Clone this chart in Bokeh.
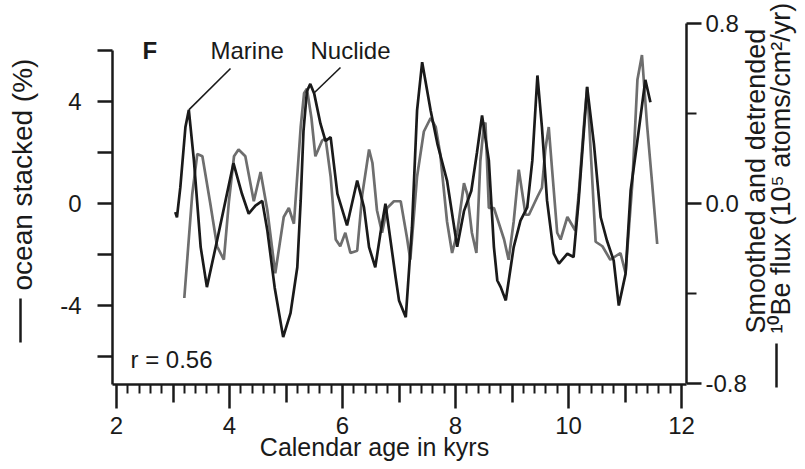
import math
from bokeh.plotting import figure
from bokeh.models import LinearAxis, Range1d, FixedTicker, Label
from bokeh.embed import file_html
from bokeh.resources import INLINE

# ---- data ----
marine_age = [3.04, 3.07, 3.13, 3.22, 3.28, 3.37, 3.49, 3.60, 3.78, 3.93, 4.07, 4.22, 4.34, 4.46,
              4.58, 4.67, 4.80, 4.95, 5.08, 5.20, 5.26, 5.31, 5.37, 5.43, 5.50, 5.61, 5.70, 5.79,
              5.91, 6.08, 6.26, 6.38, 6.47, 6.58, 6.67, 6.76, 6.94, 7.00, 7.12, 7.23, 7.32, 7.41,
              7.56, 7.68, 7.85, 8.03, 8.15, 8.28, 8.38, 8.47, 8.59, 8.68, 8.74, 8.80, 8.89, 9.03,
              9.15, 9.27, 9.36, 9.45, 9.53, 9.62, 9.74, 9.83, 9.98, 10.09, 10.18, 10.33, 10.45,
              10.57, 10.68, 10.80, 10.89, 11.01, 11.10, 11.22, 11.36, 11.45]
marine_pct = [-0.34, -0.54, 0.64, 3.0, 3.67, 1.69, -1.71, -3.28, -1.45, 0.12, 1.58, 0.38, -0.40, -0.08,
              0.10, -1.06, -3.3, -5.24, -4.3, -2.50, 0.12, 2.86, 4.40, 4.69, 4.30, 3.13, 2.45, 2.6,
              0.38, -0.86, 0.90, -0.15, -1.71, -2.50, -1.19, -0.01, -2.89, -3.8, -4.46, -0.93, 3.65, 5.54,
              3.65, 2.34, 0.9, -1.7, -0.3, 0.5, 2.0, 3.45, 1.69, -1.71, -3.02, -3.28, -3.80, -1.71,
              -0.67, -0.15, 1.69, 5.02, 2.99, 0.12, -1.97, -2.36, -1.97, -2.1, 0.12, 4.56, 2.34,
              -0.54, -1.45, -2.24, -4.0, -2.76, 0.51, 2.47, 4.85, 3.97]

nuclide_age = [3.20, 3.34, 3.43, 3.52, 3.66, 3.78, 3.90, 3.99, 4.08, 4.16, 4.28, 4.43, 4.55, 4.67,
               4.81, 4.96, 5.05, 5.14, 5.26, 5.32, 5.37, 5.45, 5.52, 5.64, 5.70, 5.79, 5.88, 5.96,
               6.05, 6.14, 6.26, 6.35, 6.47, 6.53, 6.61, 6.70, 6.79, 6.91, 7.03, 7.14, 7.20, 7.32,
               7.44, 7.56, 7.65, 7.73, 7.85, 7.94, 8.03, 8.15, 8.21, 8.29, 8.37, 8.44, 8.50, 8.53,
               8.59, 8.68, 8.86, 8.94, 9.03, 9.12, 9.24, 9.30, 9.45, 9.53, 9.59, 9.65, 9.71, 9.80,
               9.86, 9.98, 10.12, 10.18, 10.27, 10.33, 10.40, 10.48, 10.60, 10.74, 10.92, 11.01,
               11.13, 11.22, 11.30, 11.39, 11.48, 11.57]
nuclide_flux = [-0.42, 0.04, 0.22, 0.21, 0.0, -0.19, -0.25, 0.01, 0.21, 0.24, 0.21, 0.01, 0.14, -0.03,
                -0.31, -0.06, -0.02, -0.09, 0.34, 0.49, 0.51, 0.38, 0.21, 0.28, 0.29, 0.12, -0.16, -0.19,
                -0.13, -0.22, -0.21, 0.04, 0.24, 0.18, -0.03, -0.13, -0.02, 0.01, 0.01, -0.15, -0.25, 0.12,
                0.32, 0.38, 0.34, 0.22, -0.08, -0.22, -0.13, 0.09, 0.04, -0.13, -0.22, 0.19, 0.34, 0.36,
                -0.02, -0.02, -0.16, -0.25, -0.08, 0.15, -0.05, -0.05, 0.03, 0.07, 0.24, 0.34, 0.15, -0.13,
                -0.16, -0.06, -0.12, 0.04, 0.34, 0.52, 0.20, -0.17, -0.19, -0.25, -0.22, -0.31,
                0.09, 0.55, 0.66, 0.35, 0.09, -0.18]

x_major = [2, 4, 6, 8, 10, 12]
x_mid = [3, 5, 7, 9, 11]
x_minor = [round(2 + 0.2 * i, 1) for i in range(51) if i % 5 != 0]
left_ticks = [-6, -4, -2, 0, 2, 4, 6]
left_tick_labels = {-4: "-4", 0: "0", 4: "4"}
right_major = [-0.8, 0.0, 0.8]
right_minor = [-0.4, 0.4]
right_tick_labels = {-0.8: "-0.8", 0.0: "0.0", 0.8: "0.8"}

# ---- layout (pixels) ----
W, H = 800, 465
FONT = "Liberation Sans"
INK = "#1a1a1a"
GREY = "#6e6e6e"
X_PX = 56.5          # px per kyr
X2_PX = 116          # pixel of 2 kyr
Y0_PX = 203          # pixel of zero on both y axes
L_PX = 25.5          # px per % (left)
R_PX = 225.0         # px per flux unit (right)
AX_L, AX_R, AX_B = 112, 686, 384


def xv(px):
    return 2 + (px - X2_PX) / X_PX


def yl(py):
    return (Y0_PX - py) / L_PX


def yrr(py):
    return (Y0_PX - py) / R_PX


p = figure(width=W, height=H, output_backend="svg", toolbar_location=None,
           x_range=Range1d(xv(0), xv(W)), y_range=Range1d(yl(H), yl(0)),
           x_axis_type=None, y_axis_type=None,
           min_border_left=0, min_border_right=0, min_border_top=0, min_border_bottom=0)
p.extra_y_ranges = {"nuc": Range1d(yrr(H), yrr(0))}
p.outline_line_color = None
p.background_fill_color = "white"
p.border_fill_color = "white"

X_LO, X_HI, Y_LO = xv(AX_L), xv(AX_R), yl(AX_B)


def style_axis(ax, tick_out, label_size="24px"):
    ax.axis_line_color = INK
    ax.axis_line_width = 2.5
    ax.major_tick_line_color = INK
    ax.major_tick_line_width = 2.5
    ax.minor_tick_line_color = INK
    ax.minor_tick_line_width = 2
    ax.major_tick_in = 0
    ax.minor_tick_in = 0
    ax.major_tick_out = tick_out
    ax.major_label_text_font = FONT
    ax.major_label_text_font_size = label_size
    ax.major_label_text_color = INK


# bottom axis
xa = LinearAxis(ticker=FixedTicker(ticks=x_major, minor_ticks=x_minor), fixed_location=Y_LO,
                bounds=(X_LO, X_HI))
style_axis(xa, 24)
xa.minor_tick_out = 9
xa.major_label_standoff = 8
p.add_layout(xa, "below")

# medium ticks at odd kyrs
xm = LinearAxis(ticker=FixedTicker(ticks=x_mid, minor_ticks=[]), fixed_location=Y_LO,
                bounds=(X_LO, X_HI))
style_axis(xm, 18)
xm.axis_line_color = None
xm.major_label_text_color = None
xm.minor_tick_line_color = None
p.add_layout(xm, "below")

# left axis (tick labels are placed as texts below, at the reference's distance)
ya = LinearAxis(ticker=FixedTicker(ticks=left_ticks, minor_ticks=[]), bounds=(Y_LO, 6),
                fixed_location=X_LO)
style_axis(ya, 15)
ya.major_label_text_color = None
p.add_layout(ya, "left")

# right axis
yr = LinearAxis(y_range_name="nuc", ticker=FixedTicker(ticks=right_major, minor_ticks=right_minor),
                bounds=(-0.8, 0.8), fixed_location=X_HI, major_label_overrides=right_tick_labels)
style_axis(yr, 15)
yr.minor_tick_out = 10
yr.major_label_standoff = 4
p.add_layout(yr, "right")

# curves
p.line(nuclide_age, nuclide_flux, y_range_name="nuc", line_color=GREY, line_width=2.7)
p.line(marine_age, marine_pct, line_color=INK, line_width=2.7)

# callout pointers
imax = marine_pct.index(max(marine_pct[:10]))
p.segment(x0=[marine_age[imax]], y0=[marine_pct[imax]], x1=[xv(230)], y1=[yl(68)],
          line_color=INK, line_width=1.6)
p.segment(x0=[xv(313)], y0=[yrr(93)], x1=[xv(340)], y1=[yrr(67)], y_range_name="nuc",
          line_color=INK, line_width=1.6)

# series keys (short bars in front of the axis titles)
p.segment(x0=[xv(20), xv(776)], y0=[yl(298), yl(343)], x1=[xv(20), xv(776)], y1=[yl(342), yl(387)],
          line_color=INK, line_width=2.5)


def lab(text, px, py, size, angle=0.0, align="left", baseline="middle", bold=False):
    """Place a text at page pixel (px, py) measured from the top-left."""
    p.add_layout(Label(x=px, y=H - py, x_units="screen", y_units="screen", text=text, angle=angle,
                       text_align=align, text_baseline=baseline, text_font=FONT,
                       text_font_size=f"{size}px", text_color=INK,
                       text_font_style="bold" if bold else "normal"))


UP = math.pi / 2
# left tick labels, right-aligned 31 px left of the axis line
for val, txt in left_tick_labels.items():
    lab(txt, AX_L - 31, Y0_PX - val * L_PX, 24, align="right")

lab("F", 142, 50, 24, bold=True)
lab("Marine", 210, 49.5, 24)
lab("Nuclide", 310, 50, 24)
lab("r = 0.56", 130, 359, 24)

lab("Calendar age in kyrs", 374, 446, 25, align="center")
lab("ocean stacked (%)", 22, 290, 28, angle=UP)
lab("Smoothed and detrended", 755, 333, 27, angle=UP)
lab("\u00b9\u2070Be flux (10\u2075 atoms/cm\u00b2/yr)", 780, 333, 27, angle=UP)

open("out.html", "w").write(file_html(p, INLINE))
